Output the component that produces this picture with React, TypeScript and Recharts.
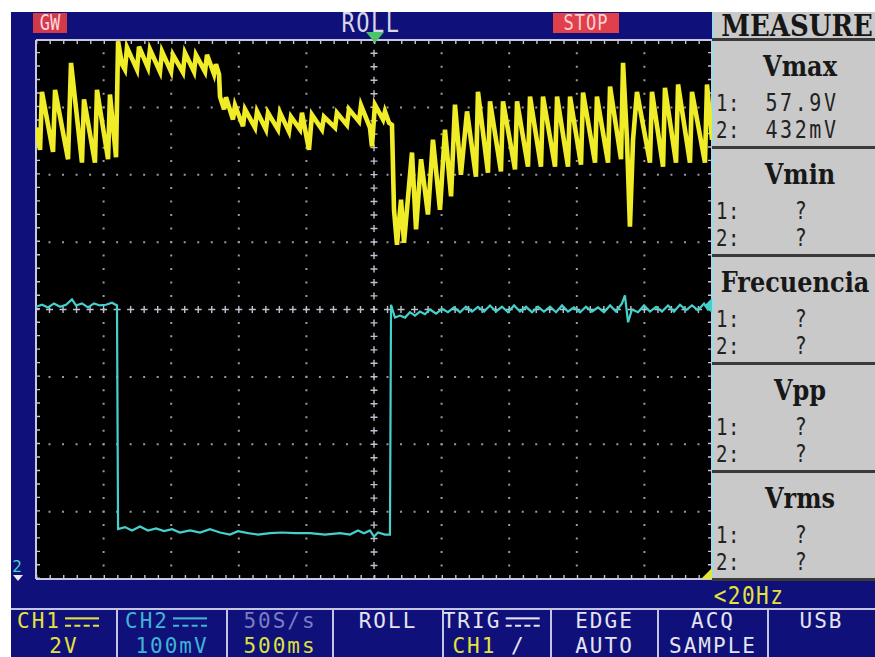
import React from "react";
import { LineChart, Line, XAxis, YAxis, ReferenceLine } from "recharts";

// CH1 trace: time in s (500 ms/div), level in divisions from centre
const ch1Time = [
  0, 0.03, 0.044, 0.126, 0.141, 0.237, 0.259, 0.34, 0.355, 0.436, 0.451, 0.533, 0.547, 0.592,
  0.607, 0.636, 0.658, 0.673, 0.747, 0.762, 0.828, 0.843, 0.917, 0.932, 0.999, 1.013, 1.087, 1.102,
  1.169, 1.183, 1.25, 1.265, 1.317, 1.331, 1.354, 1.361, 1.391, 1.405, 1.457, 1.472, 1.531, 1.546,
  1.62, 1.635, 1.701, 1.716, 1.79, 1.805, 1.871, 1.886, 1.953, 1.967, 2.019, 2.041, 2.115, 2.13,
  2.212, 2.226, 2.3, 2.315, 2.389, 2.404, 2.47, 2.485, 2.507, 2.567, 2.581, 2.611, 2.633, 2.648,
  2.67, 2.7, 2.722, 2.781, 2.811, 2.848, 2.899, 2.936, 2.988, 3.025, 3.07, 3.099, 3.143, 3.188,
  3.254, 3.269, 3.343, 3.358, 3.439, 3.454, 3.543, 3.558, 3.639, 3.654, 3.735, 3.75, 3.839, 3.854,
  3.935, 3.95, 4.031, 4.046, 4.135, 4.149, 4.231, 4.246, 4.327, 4.342, 4.371, 4.393, 4.416, 4.445,
  4.541, 4.556, 4.638, 4.652, 4.734, 4.749, 4.837, 4.852, 4.948, 4.963, 5.0,
];
const ch1Div = [
  2.7, 2.37, 3.23, 2.34, 3.26, 2.23, 3.66, 2.18, 3.12, 2.18, 3.26, 2.23, 3.19, 2.26,
  3.98, 3.64, 3.56, 3.89, 3.56, 3.9, 3.59, 3.86, 3.53, 3.83, 3.53, 3.78, 3.52, 3.81,
  3.53, 3.78, 3.53, 3.78, 3.49, 3.64, 3.49, 3.16, 2.97, 3.15, 2.82, 3.03, 2.72, 2.97,
  2.7, 2.94, 2.67, 2.92, 2.67, 2.92, 2.64, 2.86, 2.67, 2.92, 2.37, 2.89, 2.67, 2.86,
  2.7, 2.92, 2.74, 2.97, 2.79, 3.03, 2.7, 2.42, 3.04, 2.82, 2.94, 2.77, 2.74, 1.48,
  0.96, 1.63, 0.99, 2.33, 1.19, 2.23, 1.41, 2.52, 1.48, 2.67, 1.68, 3.04, 2.0, 2.94,
  1.97, 3.23, 2.03, 3.09, 2.05, 3.09, 2.08, 3.09, 2.12, 3.16, 2.12, 3.16, 2.12, 3.16,
  2.12, 3.16, 2.15, 3.22, 2.18, 3.16, 2.18, 3.31, 2.23, 3.66, 2.52, 1.23, 2.52, 3.23,
  2.18, 3.23, 2.12, 3.29, 2.18, 3.34, 2.18, 3.23, 2.18, 3.34, 2.52,
];

// CH2 trace
const ch2Time = [
  0, 0.044, 0.089, 0.133, 0.178, 0.222, 0.266, 0.296, 0.34, 0.385, 0.429, 0.473, 0.518, 0.562, 0.599,
  0.607, 0.658, 0.71, 0.769, 0.828, 0.888, 0.947, 1.006, 1.065, 1.139, 1.213, 1.287, 1.361, 1.435,
  1.494, 1.568, 1.642, 1.731, 1.82, 1.916, 2.027, 2.138, 2.249, 2.322, 2.382, 2.426, 2.47, 2.5, 2.53,
  2.581, 2.618,
  2.626, 2.655, 2.692, 2.729, 2.766, 2.803, 2.84, 2.877, 2.914, 2.959, 3.003, 3.047, 3.092, 3.136,
  3.18, 3.225, 3.269, 3.314, 3.358, 3.402, 3.447, 3.491, 3.536, 3.58, 3.624, 3.669, 3.713, 3.757,
  3.802, 3.846, 3.891, 3.935, 3.979, 4.024, 4.068, 4.112, 4.157, 4.201, 4.246, 4.29, 4.334, 4.356,
  4.379, 4.408, 4.453, 4.497, 4.541, 4.586, 4.63, 4.675, 4.719, 4.763, 4.808, 4.852, 4.896, 4.941,
  4.97, 5.0,
];
const ch2Div = [
  0.04, 0.07, 0.03, 0.09, 0.04, 0.07, 0.15, 0.06, 0.09, 0.03, 0.09, 0.06, 0.07, 0.1, 0.06,
  -3.26, -3.23, -3.28, -3.22, -3.28, -3.25, -3.29, -3.26, -3.31, -3.28, -3.31, -3.26, -3.31, -3.34,
  -3.29, -3.32, -3.34, -3.32, -3.31, -3.32, -3.32, -3.34, -3.32, -3.34, -3.28, -3.32, -3.28, -3.37, -3.31,
  -3.34, -3.34,
  0.07, -0.12, -0.09, -0.12, -0.04, -0.09, -0.03, -0.07, 0.0, -0.06, 0.01, -0.04, 0.03, -0.04,
  0.04, -0.03, 0.04, -0.03, 0.06, -0.03, 0.04, -0.04, 0.06, -0.03, 0.04, -0.04, 0.04, -0.03,
  0.04, -0.04, 0.06, -0.03, 0.03, -0.04, 0.04, -0.03, 0.03, -0.04, 0.06, -0.03, 0.09, 0.21,
  -0.19, 0.0, -0.04, 0.06, -0.03, 0.04, -0.03, 0.06, -0.03, 0.07, -0.01, 0.06, -0.01, 0.09,
  0.0, 0.06,
];

const gridTimes = [0.5, 1, 1.5, 2, 3, 3.5, 4, 4.5];
const gridDivs = [-3, -2, -1, 1, 2, 3];

const measureTitles = ["Vmax", "Vmin", "Frecuencia", "Vpp", "Vrms"];
const measureCh1 = ["57.9V", "?", "?", "?", "?"];
const measureCh2 = ["432mV", "?", "?", "?", "?"];

const menuTop = ["CH1", "CH2", "50S/s", "ROLL", "TRIG", "EDGE", "ACQ", "USB"];
const menuBottom = ["2V", "100mV", "500ms", "", "CH1", "AUTO", "SAMPLE", ""];
const menuEdges = [11, 117, 227, 333, 443, 551, 658, 768, 875];
const menuTopColor = ["#e6e23c", "#3fb4d4", "#7c7cc4", "#e4e4f0", "#e4e4f0", "#e4e4f0", "#e4e4f0", "#e4e4f0"];
const menuBottomColor = ["#e6e23c", "#3fb4d4", "#dde23c", "#e4e4f0", "#e6e23c", "#e4e4f0", "#e4e4f0", "#e4e4f0"];

const MONO = '"DejaVu Sans Mono", monospace';
const SERIF = '"DejaVu Serif", serif';
const NAVY = "#10107a";

const ch1Data = ch1Time.map((t, i) => ({ t, v: ch1Div[i] }));
const ch2Data = ch2Time.map((t, i) => ({ t, v: ch2Div[i] }));

function T({ x, y, c, s = 22, f = MONO, w = 400, sx = 1, sy = 1.2, ls = 1.5, a = "middle", children }: any) {
  const tx = a === "middle" ? "-50%" : a === "end" ? "-100%" : "0";
  return (
    <div
      style={{
        position: "absolute",
        left: x,
        top: y,
        transform: `translate(${tx}, -50%) scale(${sx}, ${sy})`,
        transformOrigin: a === "start" ? "left center" : "center",
        color: c,
        fontSize: s,
        fontFamily: f,
        fontWeight: w,
        letterSpacing: ls,
        whiteSpace: "nowrap",
        lineHeight: 1,
      }}
    >
      {children}
    </div>
  );
}

const DC = () => (
  <span
    style={{
      display: "inline-block",
      width: 34,
      height: 5,
      borderTop: "2px solid currentColor",
      borderBottom: "2px dashed currentColor",
      marginLeft: 4,
      verticalAlign: "middle",
    }}
  />
);

export default function App() {
  const dot = "#9a9a9a";
  const cross = "#c0c0d0";
  return (
    <div style={{ position: "absolute", left: 0, top: 0, width: 875, height: 657, background: "#fff", overflow: "hidden" }}>
      <div style={{ position: "absolute", left: 11, top: 12, width: 864, height: 645, background: NAVY }} />
      <div style={{ position: "absolute", left: 36, top: 40, width: 676, height: 539, background: "#000" }} />

      <div style={{ position: "absolute", left: 32, top: 36 }}>
        <LineChart width={684} height={547} margin={{ top: 4, right: 4, bottom: 4, left: 4 }}>
          <XAxis type="number" dataKey="t" domain={[0, 5]} hide allowDataOverflow />
          <YAxis type="number" dataKey="v" domain={[-4, 4]} hide allowDataOverflow />
          {gridTimes.map((t) => (
            <ReferenceLine key={"gx" + t} x={t} stroke={dot} strokeWidth={2} strokeDasharray="2 11.48" strokeDashoffset={1} />
          ))}
          {gridDivs.map((d) => (
            <ReferenceLine key={"gy" + d} y={d} stroke={dot} strokeWidth={2} strokeDasharray="2 11.52" strokeDashoffset={1} />
          ))}
          <ReferenceLine x={2.5} stroke={cross} strokeWidth={7} strokeDasharray="1.4 12.08" strokeDashoffset={0.7} />
          <ReferenceLine x={2.5} stroke={cross} strokeWidth={1.4} strokeDasharray="7 6.48" strokeDashoffset={3.5} />
          <ReferenceLine y={0} stroke={cross} strokeWidth={7} strokeDasharray="1.4 12.12" strokeDashoffset={0.7} />
          <ReferenceLine y={0} stroke={cross} strokeWidth={1.4} strokeDasharray="7 6.52" strokeDashoffset={3.5} />
          {[0, 5].map((t) => (
            <ReferenceLine key={"fx" + t} x={t} stroke="#c4c4dc" strokeWidth={8} strokeDasharray="1.4 12.08" ifOverflow="hidden" />
          ))}
          {[-4, 4].map((d) => (
            <ReferenceLine key={"fy" + d} y={d} stroke="#c4c4dc" strokeWidth={8} strokeDasharray="1.4 12.12" ifOverflow="hidden" />
          ))}
          {[0, 5].map((t) => (
            <ReferenceLine key={"bx" + t} x={t} stroke="#c8c8e0" strokeWidth={2} />
          ))}
          {[-4, 4].map((d) => (
            <ReferenceLine key={"by" + d} y={d} stroke="#c8c8e0" strokeWidth={2} />
          ))}
          <Line data={ch2Data} dataKey="v" type="linear" stroke="#46d0cc" strokeWidth={2.2} dot={false} isAnimationActive={false} />
          <Line data={ch1Data} dataKey="v" type="linear" stroke="#f0ec28" strokeWidth={4.6} strokeLinejoin="miter" dot={false} isAnimationActive={false} />
        </LineChart>
      </div>

      {/* top status bar */}
      <div style={{ position: "absolute", left: 33, top: 13, width: 34, height: 20, background: "#d23a4a" }} />
      <T x={50} y={23} c="#ffd8dc" s={17} ls={0}>GW</T>
      <T x={371} y={24} c="#d8d8e4">ROLL</T>
      <div style={{ position: "absolute", left: 553, top: 13, width: 66, height: 20, background: "#e0404c" }} />
      <T x={586} y={23} c="#ffd0d4" s={17} ls={1}>STOP</T>
      <svg style={{ position: "absolute", left: 364, top: 30 }} width={22} height={14}>
        <polygon points="2,2 20,2 11,13" fill="#4cc46c" />
      </svg>

      {/* trace markers */}
      <svg style={{ position: "absolute", left: 701, top: 298 }} width={12} height={16}>
        <polygon points="11,0 11,15 3,8" fill="#46d0cc" />
      </svg>
      <svg style={{ position: "absolute", left: 700, top: 567 }} width={13} height={13}>
        <polygon points="12,1 12,12 1,12" fill="#e8e23c" />
      </svg>
      <T x={17} y={567} c="#46d0cc" s={16} ls={0} sy={1}>2</T>
      <svg style={{ position: "absolute", left: 12, top: 574 }} width={12} height={8}>
        <polygon points="1,1 11,1 6,7" fill="#e8e8f0" />
      </svg>

      {/* measure panel */}
      <div style={{ position: "absolute", left: 712, top: 12, width: 163, height: 568, background: "#c9c9c9" }} />
      <div style={{ position: "absolute", left: 712, top: 12, width: 2, height: 568, background: "#9fd8e0" }} />
      <T x={797} y={26} c="#161616" s={26} f={SERIF} w={700} ls={0} sy={1.15}>MEASURE</T>
      {measureTitles.map((title, i) => {
        const top = 40 + i * 108;
        return (
          <React.Fragment key={title}>
            <div style={{ position: "absolute", left: 712, top: top - 2, width: 163, height: 3, background: "#3a3a3a" }} />
            <T x={title.length > 5 ? 795 : 800} y={top + 27} c="#181818" s={24} f={SERIF} w={700} ls={0} sy={1.15}>
              {title}
            </T>
            <T x={716} y={top + 63} c="#222" s={19} a="start" ls={0.5}>1:</T>
            <T x={716} y={top + 90} c="#222" s={19} a="start" ls={0.5}>2:</T>
            <T x={802} y={top + 63} c="#222" s={20} ls={2.6}>{measureCh1[i]}</T>
            <T x={802} y={top + 90} c="#222" s={20} ls={2.6}>{measureCh2[i]}</T>
          </React.Fragment>
        );
      })}
      <div style={{ position: "absolute", left: 712, top: 578, width: 163, height: 3, background: "#3a3a3a" }} />

      {/* bottom bar */}
      <T x={749} y={596} c="#e6e23c" s={21}>{"<20Hz"}</T>
      <div style={{ position: "absolute", left: 11, top: 608, width: 864, height: 2, background: "#c4c4e4" }} />
      {menuEdges.slice(1, -1).map((x) => (
        <div key={"sep" + x} style={{ position: "absolute", left: x - 1, top: 608, width: 2, height: 49, background: "#c4c4e4" }} />
      ))}
      {menuTop.map((label, i) => {
        const cx = (menuEdges[i] + menuEdges[i + 1]) / 2;
        const withDC = label === "CH1" || label === "CH2" || label === "TRIG";
        return (
          <React.Fragment key={"m" + i}>
            <T x={withDC ? cx - 6 : cx} y={621} c={menuTopColor[i]} s={21} ls={2} sy={1.05}>
              {label}
              {withDC ? <DC /> : null}
            </T>
            {menuBottom[i] ? (
              <T x={label === "TRIG" ? cx - 8 : cx} y={646} c={menuBottomColor[i]} s={21} ls={2} sy={1.05}>
                {menuBottom[i]}
                {label === "TRIG" ? <span style={{ color: "#e4e4f0" }}> /</span> : null}
              </T>
            ) : null}
          </React.Fragment>
        );
      })}
    </div>
  );
}
